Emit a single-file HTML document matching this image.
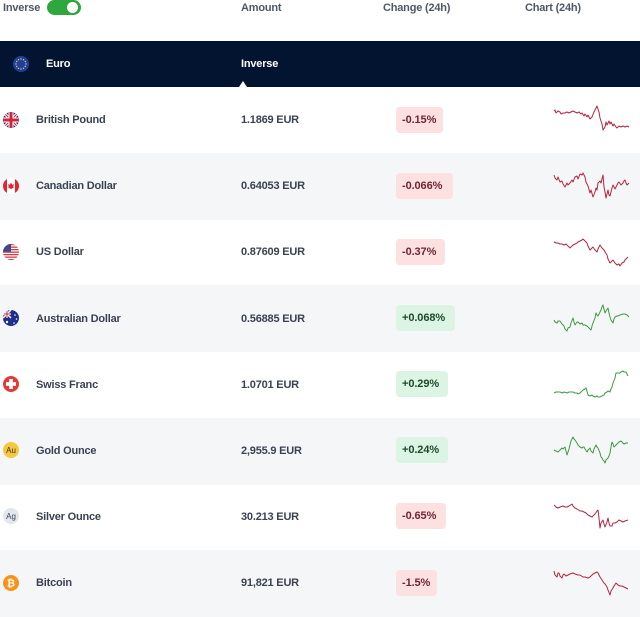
<!DOCTYPE html>
<html><head><meta charset="utf-8">
<style>
*{margin:0;padding:0;box-sizing:border-box}
body{width:640px;height:601px;overflow:hidden;background:#fff;font-family:"Liberation Sans",Arial,sans-serif;position:relative}
.t{position:absolute;font-size:11px;font-weight:bold;line-height:14px;white-space:nowrap;color:#3a4252;letter-spacing:-0.2px}
.h{color:#4f5868}
.row{position:absolute;left:0;width:640px;height:67px}
.g{background:#f5f6f8}
.b{position:absolute;left:396px;height:26px;border-radius:4px;font-size:11px;font-weight:bold;line-height:26px;padding-left:6px;white-space:nowrap;letter-spacing:-0.1px}
.r{background:#fde0e0;color:#6e2733}
.gr{background:#dcf4e3;color:#1e4a2c}
</style></head><body>
<div class="row g" style="top:153px"></div>
<div class="row g" style="top:285px"></div>
<div class="row g" style="top:418px"></div>
<div class="row g" style="top:550px"></div>
<div style="position:absolute;left:0;top:41px;width:640px;height:46px;background:#031431"></div>

<div class="t h" style="left:3px;top:1px">Inverse</div>
<div style="position:absolute;left:47px;top:0px;width:34px;height:15px;border-radius:8px;background:#2ea83c"></div>
<div style="position:absolute;left:67px;top:2px;width:11px;height:11px;border-radius:50%;background:#fff"></div>
<div class="t h" style="left:241px;top:1px">Amount</div>
<div class="t h" style="left:383px;top:1px">Change (24h)</div>
<div class="t h" style="left:525px;top:1px">Chart (24h)</div>

<div class="t" style="left:46px;top:57px;color:#fff">Euro</div>
<div class="t" style="left:241px;top:57px;color:#fff">Inverse</div>

<div class="t" style="left:36px;top:113px">British Pound</div>
<div class="t" style="left:36px;top:179px">Canadian Dollar</div>
<div class="t" style="left:36px;top:245px">US Dollar</div>
<div class="t" style="left:36px;top:312px">Australian Dollar</div>
<div class="t" style="left:36px;top:378px">Swiss Franc</div>
<div class="t" style="left:36px;top:444px">Gold Ounce</div>
<div class="t" style="left:36px;top:510px">Silver Ounce</div>
<div class="t" style="left:36px;top:576px">Bitcoin</div>

<div class="t" style="left:241px;top:113px">1.1869 EUR</div>
<div class="t" style="left:241px;top:179px">0.64053 EUR</div>
<div class="t" style="left:241px;top:245px">0.87609 EUR</div>
<div class="t" style="left:241px;top:312px">0.56885 EUR</div>
<div class="t" style="left:241px;top:378px">1.0701 EUR</div>
<div class="t" style="left:241px;top:444px">2,955.9 EUR</div>
<div class="t" style="left:241px;top:510px">30.213 EUR</div>
<div class="t" style="left:241px;top:576px">91,821 EUR</div>

<div class="b r" style="top:107px;width:47px">-0.15%</div>
<div class="b r" style="top:173px;width:57px">-0.066%</div>
<div class="b r" style="top:239px;width:49px">-0.37%</div>
<div class="b gr" style="top:305px;width:59px">+0.068%</div>
<div class="b gr" style="top:371px;width:52px">+0.29%</div>
<div class="b gr" style="top:437px;width:52px">+0.24%</div>
<div class="b r" style="top:503px;width:50px">-0.65%</div>
<div class="b r" style="top:570px;width:41px">-1.5%</div>

<svg width="640" height="601" style="position:absolute;left:0;top:0" xmlns="http://www.w3.org/2000/svg">
<defs><clipPath id="cc"><circle cx="0" cy="0" r="8"/></clipPath></defs>
<polygon points="239,87 243,81 247,87" fill="#fff"/>
<g transform="translate(21,64)">
<circle r="8" fill="#1f3fa0"/>
<g fill="#f5d32a">
<circle cx="0" cy="-5" r="0.7"/><circle cx="2.5" cy="-4.3" r="0.7"/><circle cx="4.3" cy="-2.5" r="0.7"/><circle cx="5" cy="0" r="0.7"/><circle cx="4.3" cy="2.5" r="0.7"/><circle cx="2.5" cy="4.3" r="0.7"/><circle cx="0" cy="5" r="0.7"/><circle cx="-2.5" cy="4.3" r="0.7"/><circle cx="-4.3" cy="2.5" r="0.7"/><circle cx="-5" cy="0" r="0.7"/><circle cx="-4.3" cy="-2.5" r="0.7"/><circle cx="-2.5" cy="-4.3" r="0.7"/>
</g></g>
<g transform="translate(11,120)"><g clip-path="url(#cc)">
<rect x="-8" y="-8" width="16" height="16" fill="#1e3a8a"/>
<path d="M-8-8L8 8M8-8L-8 8" stroke="#fff" stroke-width="3"/>
<path d="M-8-8L8 8M8-8L-8 8" stroke="#d0243a" stroke-width="1"/>
<path d="M0-8V8M-8 0H8" stroke="#fff" stroke-width="5"/>
<path d="M0-8V8M-8 0H8" stroke="#d0243a" stroke-width="3"/>
</g></g>
<g transform="translate(11,186)"><g clip-path="url(#cc)">
<rect x="-8" y="-8" width="16" height="16" fill="#fff"/>
<rect x="-8" y="-8" width="4" height="16" fill="#e3262c"/>
<rect x="4" y="-8" width="4" height="16" fill="#e3262c"/>
<path d="M0-3.5L1.2-1.2 3-1.8 2.2 1 3 1.5 0 3 -3 1.5 -2.2 1 -3-1.8 -1.2-1.2Z" fill="#e3262c"/>
</g></g>
<g transform="translate(11,252)"><g clip-path="url(#cc)">
<rect x="-8" y="-8" width="16" height="16" fill="#fff"/>
<g fill="#d23a48"><rect x="-8" y="-8" width="16" height="1.3"/><rect x="-8" y="-5.5" width="16" height="1.3"/><rect x="-8" y="-3" width="16" height="1.3"/><rect x="-8" y="-0.5" width="16" height="1.3"/><rect x="-8" y="2" width="16" height="1.3"/><rect x="-8" y="4.5" width="16" height="1.3"/><rect x="-8" y="7" width="16" height="1.3"/></g>
<rect x="-8" y="-8" width="8" height="7.5" fill="#3a4a8c"/>
</g></g>
<g transform="translate(11,318)"><g clip-path="url(#cc)">
<rect x="-8" y="-8" width="16" height="16" fill="#1e2f8f"/>
<path d="M-8-8L0 0M0-8L-8 0" stroke="#fff" stroke-width="1.5"/>
<path d="M-4-8V0M-8-4H0" stroke="#fff" stroke-width="2"/>
<path d="M-4-8V0M-8-4H0" stroke="#d0243a" stroke-width="1"/>
<g fill="#fff"><circle cx="-4" cy="4" r="1.2"/><circle cx="4" cy="-3" r="0.8"/><circle cx="5.5" cy="1" r="0.8"/><circle cx="3" cy="5" r="0.8"/></g>
</g></g>
<g transform="translate(11,384)">
<circle r="8" fill="#e03a3a"/>
<rect x="-1.8" y="-5" width="3.6" height="10" fill="#fff"/>
<rect x="-5" y="-1.8" width="10" height="3.6" fill="#fff"/>
</g>
<g transform="translate(11,450)">
<circle r="8" fill="#f5c83e"/>
<text x="0" y="3" font-family="Liberation Sans,sans-serif" font-size="8" text-anchor="middle" fill="#3a3320">Au</text>
</g>
<g transform="translate(11,516)">
<circle r="8" fill="#e2e6ed"/>
<text x="0" y="3" font-family="Liberation Sans,sans-serif" font-size="8" text-anchor="middle" fill="#3a4252">Ag</text>
</g>
<g transform="translate(11,583)">
<circle r="8" fill="#f7931a"/>
<text x="0" y="3.5" font-family="Liberation Sans,DejaVu Sans,sans-serif" font-size="10" font-weight="bold" text-anchor="middle" fill="#fff">₿</text>
</g>

<g fill="none" stroke-width="1" stroke-linejoin="round">
<polyline stroke="#b3263d" points="554,111 555,110 556,113 557,112 558,111 560,112 561,114 563,113 565,113 567,112 569,113 571,112 573,111 575,112 577,113 579,112 581,114 582,113 584,116 585,114 587,117 588,115 590,119 592,117 594,112 596,108 597,106 599,112 600,118 602,124 603,130 605,127 606,122 607,125 609,121 610,124 611,122 613,126 614,124 616,127 617,128 619,126 621,127 623,126 625,127 627,126 629,127"/>
<polyline stroke="#b3263d" points="554,175 555,178 557,180 558,177 560,182 562,181 563,184 565,187 567,183 568,185 570,183 572,180 573,182 575,177 577,176 578,179 580,174 582,175 583,173 585,177 586,182 588,186 590,193 591,190 593,197 595,192 596,188 597,190 598,183 600,181 601,183 603,175 604,187 605,192 606,198 607,194 608,190 609,195 610,196 612,188 613,185 615,189 616,187 618,183 619,182 621,185 623,183 624,181 625,180 626,183 627,185 629,183"/>
<polyline stroke="#b3263d" points="554,242 556,243 558,243 560,244 562,244 564,245 566,244 567,245 569,247 570,248 572,246 573,245 575,244 577,243 578,242 580,241 582,240 583,239 585,241 587,243 588,246 590,250 592,248 593,247 595,250 597,252 598,249 600,245 602,248 604,250 605,252 607,255 608,259 610,263 612,261 613,260 615,263 617,265 619,264 620,266 622,263 624,262 625,260 627,258 628,257"/>
<polyline stroke="#3f9a43" points="554,320 555,322 557,323 558,321 560,321 562,324 564,326 565,329 567,331 568,328 570,327 571,323 573,318 574,322 575,325 577,322 578,322 580,324 582,323 583,325 585,325 587,326 588,327 590,329 591,330 592,326 593,323 595,318 596,313 597,315 598,316 600,312 601,310 602,307 603,305 604,309 605,313 606,311 608,308 609,313 610,317 611,320 613,323 614,319 615,317 617,316 618,316 620,315 623,314 625,314 627,315 629,317"/>
<polyline stroke="#3f9a43" points="554,393 556,392 558,392 560,392 562,393 564,392 567,393 569,392 571,392 573,392 575,393 577,393 578,394 580,393 582,391 583,390 585,389 586,388 587,391 588,395 590,396 592,395 593,396 595,397 597,396 598,397 600,397 602,396 604,395 605,393 607,392 608,391 610,392 611,389 612,387 613,383 615,378 616,373 618,373 620,373 621,372 623,371 624,372 626,372 627,374 628,376"/>
<polyline stroke="#3f9a43" points="554,450 556,451 558,452 560,450 562,448 563,449 565,447 566,451 567,455 569,449 570,445 571,441 573,437 574,439 575,440 577,443 578,445 580,447 582,448 583,447 584,447 585,449 587,452 588,450 590,448 591,451 593,453 594,449 596,445 597,447 598,448 600,453 601,457 602,458 603,460 604,461 605,463 606,460 608,458 609,456 610,453 611,447 612,442 613,444 614,447 616,445 617,444 619,442 621,441 622,442 624,444 626,443 628,443"/>
<polyline stroke="#b3263d" points="554,505 556,507 558,508 560,507 563,506 565,507 567,507 569,506 572,504 573,506 575,508 577,509 580,511 582,511 584,512 586,513 588,515 590,516 592,517 594,515 595,514 597,511 598,510 599,518 600,528 601,523 603,520 604,524 605,527 607,522 608,518 609,523 610,526 612,526 613,523 615,523 617,522 619,520 621,521 623,522 625,521 628,520"/>
<polyline stroke="#b3263d" points="554,571 555,575 557,577 558,573 559,573 560,576 562,578 563,575 564,574 566,576 568,575 570,574 573,573 575,574 578,575 580,575 583,577 585,577 588,578 590,577 592,575 593,574 595,573 597,572 598,573 600,577 602,580 604,583 605,584 607,587 608,590 610,595 611,591 613,588 614,586 616,583 618,585 620,586 622,586 624,587 626,588 628,589"/>
</g>
</svg>
</body></html>
